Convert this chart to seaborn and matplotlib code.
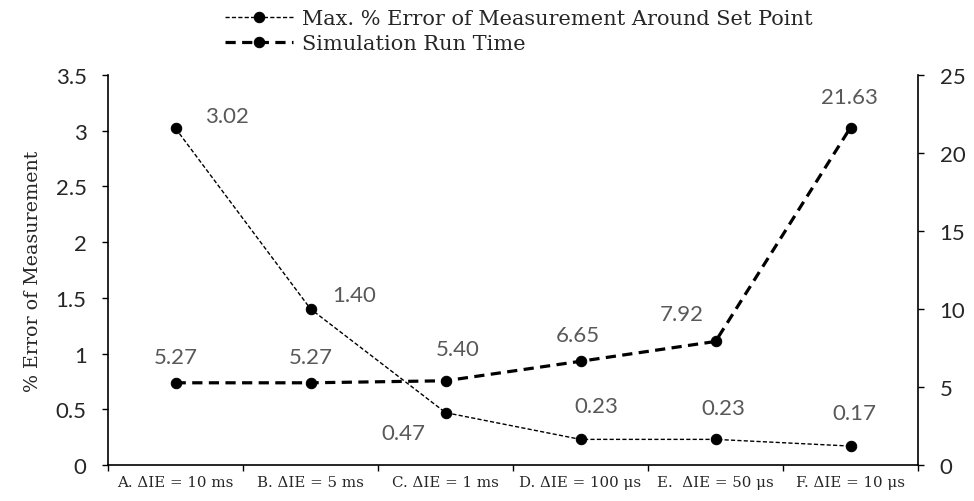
import pandas as pd
import matplotlib.pyplot as plt
import seaborn as sns

# data
steps = ["A. ΔIE = 10 ms", "B. ΔIE = 5 ms", "C. ΔIE = 1 ms",
         "D. ΔIE = 100 μs", "E.  ΔIE = 50 μs", "F. ΔIE = 10 μs"]
max_error = [3.02, 1.40, 0.47, 0.23, 0.23, 0.17]
run_time = [5.27, 5.27, 5.40, 6.65, 7.92, 21.63]

df = pd.DataFrame({"step": range(len(steps)), "error": max_error, "runtime": run_time})

sns.set_style("ticks")
plt.rcParams["font.family"] = ["Lato", "DejaVu Sans"]

fig, ax = plt.subplots(figsize=(9.74, 5.02), dpi=100)
fig.subplots_adjust(left=0.111, right=0.9425, bottom=0.0717, top=0.8486)
ax2 = ax.twinx()

sns.lineplot(data=df, x="step", y="error", ax=ax, color="black", lw=1,
             marker="o", markersize=7.5, markeredgecolor="black")
ax.lines[0].set_dashes((3, 1.6))
sns.lineplot(data=df, x="step", y="runtime", ax=ax2, color="black", lw=2.3,
             marker="o", markersize=7.5, markeredgecolor="black")
ax2.lines[0].set_dashes((3.2, 2))

# data labels, offsets in pixels from the point
err_off = [(51, 12), (44, 14), (-42, -20), (16, 33), (8, 31), (4, 33)]
rt_off = [(0, 26), (0, 26), (12, 32), (-3, 26), (-34, 27), (-1, 31)]
lab = dict(color="#595959", fontsize=16, ha="center", va="center",
           textcoords="offset pixels")
for i, (e, r) in enumerate(zip(max_error, run_time)):
    ax.annotate(f"{e:.2f}", (i, e), xytext=err_off[i], **lab)
    ax2.annotate(f"{r:.2f}", (i, r), xytext=rt_off[i], **lab)

ax.set_xlim(-0.5, len(steps) - 0.5)
ax.set_ylim(0, 3.5)
ax2.set_ylim(0, 25)
ax.set_yticks([0, 0.5, 1, 1.5, 2, 2.5, 3, 3.5])
ax.set_yticklabels(["0", "0.5", "1", "1.5", "2", "2.5", "3", "3.5"])
ax2.set_yticks([0, 5, 10, 15, 20, 25])

ax.set_xticks([i - 0.5 for i in range(len(steps) + 1)])
ax.set_xticklabels([])
ax.set_xticks(range(len(steps)), minor=True)
ax.set_xticklabels(steps, minor=True, family="DejaVu Serif", fontsize=10.8)
ax.tick_params(axis="x", which="minor", length=0, pad=7)
ax.tick_params(axis="x", which="major", length=4.5, width=1, color="black")
ax.tick_params(axis="y", length=4.5, width=1, labelsize=16, pad=11, color="black")
ax2.tick_params(axis="y", length=4.5, width=1, labelsize=16, pad=11, color="black")

ax.set_xlabel("")
ax.set_ylabel("% Error of Measurement", family="DejaVu Serif", fontsize=13.7, labelpad=10)
ax2.set_ylabel("")

for s in ["top", "right"]:
    ax.spines[s].set_visible(False)
for s in ["top", "left", "bottom"]:
    ax2.spines[s].set_visible(False)
for a in (ax, ax2):
    for s in a.spines.values():
        s.set_color("black")
        s.set_linewidth(1.2)

h1 = ax.lines[0]
h2 = ax2.lines[0]
fig.legend([h1, h2], ["Max. % Error of Measurement Around Set Point", "Simulation Run Time"],
           loc="upper left", bbox_to_anchor=(0.222, 0.997), frameon=False,
           prop={"family": "DejaVu Serif", "size": 15}, handlelength=3.3,
           handletextpad=0.4, labelspacing=0.3, borderaxespad=0)

fig.savefig("out.png", dpi=100)
